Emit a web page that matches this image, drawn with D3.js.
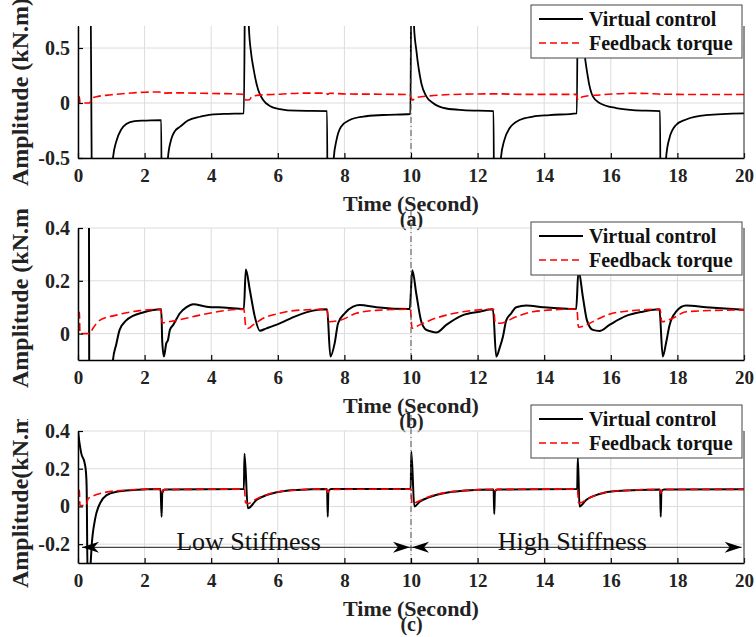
<!DOCTYPE html>
<html><head><meta charset="utf-8">
<script src="https://cdn.jsdelivr.net/npm/d3@7/dist/d3.min.js"></script>
<style>
body{margin:0;background:#fff}
svg{display:block}
text{font-family:"Liberation Serif","Times New Roman",serif}
</style>
</head><body>
<svg id="chart" width="756" height="637"></svg>
<script>
// ---------------- data ----------------
const timeTicks = [0, 2, 4, 6, 8, 10, 12, 14, 16, 18, 20];
const seriesNames = ["Virtual control", "Feedback torque"];
const panelTags = ["(a)", "(b)", "(c)"];
const yTitles = ["Amplitude (kN.m)", "Amplitude (kN.m)", "Amplitude(kN.m)"];
const xTitle = "Time (Second)";

const yDomainA = [-0.5, 0.7];
const yTicksA = [-0.5, 0, 0.5];
const yDomainB = [-0.1, 0.4];
const yTicksB = [0, 0.2, 0.4];
const yDomainC = [-0.3, 0.4];
const yTicksC = [-0.2, 0, 0.2, 0.4];

// panel (a) : [time, value]
const virtualA = [
  [0,0.05],[0.01,1.5],[0.36,1.5],[0.44,-1.5],[0.98,-1.0],[1.05,-0.5],[1.15,-0.35],[1.3,-0.24],[1.45,-0.19],[1.7,-0.165],[2.0,-0.16],[2.5,-0.155],
  [2.52,-1.5],[2.66,-1.0],[2.7,-0.5],[2.8,-0.33],[2.9,-0.26],[3.07,-0.215],[3.3,-0.16],[3.67,-0.125],[4.0,-0.105],[4.5,-0.098],[4.98,-0.094],
  [5.03,1.5],[5.1,1.5],[5.13,0.7],[5.2,0.45],[5.26,0.33],[5.41,0.12],[5.56,0.027],[5.76,-0.027],[6.06,-0.055],[6.56,-0.07],[7.48,-0.073],
  [7.5,-1.5],[7.64,-1.0],[7.68,-0.5],[7.76,-0.34],[7.9,-0.215],[8.16,-0.155],[8.56,-0.124],[9.16,-0.109],[9.98,-0.1],
  [10.02,1.5],[10.06,1.5],[10.09,0.7],[10.16,0.48],[10.31,0.18],[10.46,0.06],[10.66,0.0],[11.06,-0.05],[11.56,-0.064],[12.48,-0.073],
  [12.5,-1.5],[12.66,-1.0],[12.7,-0.5],[12.8,-0.34],[12.96,-0.23],[13.26,-0.155],[13.66,-0.124],[14.16,-0.11],[14.98,-0.094],
  [15.02,1.5],[15.1,1.5],[15.15,0.7],[15.31,0.24],[15.46,0.06],[15.66,0.0],[16.16,-0.046],[16.66,-0.064],[17.48,-0.073],
  [17.5,-1.5],[17.62,-1.0],[17.66,-0.5],[17.76,-0.32],[17.96,-0.2],[18.26,-0.15],[18.86,-0.11],[20,-0.094]
];
const feedbackA = [
  [0,0.057],[0.04,0.057],[0.06,0.0],[0.35,0.0],[0.42,0.045],[0.6,0.06],[1.0,0.075],[1.5,0.088],[2.0,0.098],[2.45,0.1],[2.52,0.085],[2.6,0.09],
  [3.0,0.092],[4.0,0.087],[4.95,0.08],[5.03,0.027],[5.15,0.03],[5.22,0.057],[5.45,0.072],[6.06,0.08],[6.76,0.09],[7.45,0.09],[7.5,0.078],[7.56,0.088],
  [8.06,0.082],[9.06,0.08],[9.96,0.076],[10.04,0.027],[10.16,0.05],[10.56,0.065],[11.56,0.08],[12.56,0.083],[13.5,0.078],[14.95,0.078],
  [15.02,0.027],[15.15,0.057],[15.66,0.073],[16.66,0.088],[17.45,0.082],[17.5,0.074],[17.56,0.08],[18.5,0.077],[20,0.077]
];

// panel (b)
const virtualB = [
  [0,0.0],[0.01,1.0],[0.32,1.0],[0.35,-1.0],[0.95,-0.6],[1.05,-0.1],[1.15,-0.04],[1.25,0.014],[1.45,0.05],[1.65,0.067],[1.95,0.08],[2.5,0.092],
  [2.53,-0.03],[2.58,-0.087],[2.65,-0.037],[2.7,-0.025],[2.76,0.014],[2.86,0.033],[3.06,0.077],[3.26,0.1],[3.46,0.111],[3.86,0.102],[4.46,0.098],[4.98,0.093],
  [5.04,0.243],[5.16,0.165],[5.31,0.064],[5.46,0.011],[5.66,0.02],[6.06,0.039],[6.56,0.067],[7.06,0.087],[7.48,0.092],
  [7.58,-0.087],[7.71,-0.035],[7.81,0.039],[8.01,0.077],[8.26,0.102],[8.46,0.108],[8.96,0.1],[9.96,0.093],
  [10.04,0.24],[10.16,0.15],[10.31,0.045],[10.46,0.014],[10.56,0.01],[10.76,0.004],[11.06,0.033],[11.56,0.07],[12.06,0.083],[12.46,0.092],
  [12.56,-0.087],[12.66,-0.055],[12.76,-0.012],[12.86,0.05],[13.01,0.077],[13.16,0.1],[13.46,0.106],[13.96,0.1],[14.96,0.093],
  [15.03,0.24],[15.16,0.14],[15.28,0.052],[15.46,0.014],[15.66,0.01],[15.96,0.033],[16.46,0.067],[16.96,0.083],[17.46,0.092],
  [17.56,-0.087],[17.66,-0.035],[17.76,0.03],[17.96,0.083],[18.26,0.106],[18.86,0.1],[20,0.09]
];
const feedbackB = [
  [0,0.083],[0.04,0.08],[0.06,0.0],[0.35,0.0],[0.45,0.02],[0.65,0.05],[1.15,0.07],[1.85,0.087],[2.48,0.092],[2.53,0.04],[2.6,0.042],[2.96,0.05],
  [3.66,0.07],[4.46,0.088],[4.98,0.092],[5.04,0.026],[5.1,0.02],[5.26,0.033],[5.56,0.058],[6.06,0.077],[6.56,0.088],[7.48,0.092],[7.53,0.045],
  [7.86,0.05],[8.36,0.077],[8.96,0.088],[9.98,0.092],[10.03,0.02],[10.26,0.033],[10.56,0.05],[11.06,0.07],[11.56,0.083],[12.48,0.092],[12.53,0.04],
  [12.66,0.039],[13.16,0.064],[13.66,0.083],[14.98,0.093],[15.03,0.024],[15.26,0.033],[15.66,0.058],[16.16,0.08],[17.48,0.092],[17.53,0.045],
  [17.86,0.058],[18.26,0.083],[20,0.09]
];

// panel (c)
const virtualC = [
  [0,0.4],[0.05,0.33],[0.1,0.28],[0.2,0.23],[0.24,0.18],[0.26,0.1],[0.29,-0.4],[0.35,-0.4],[0.38,-0.3],[0.41,-0.21],[0.51,-0.07],[0.66,0.016],
  [0.86,0.06],[1.16,0.078],[1.66,0.087],[2.48,0.092],[2.51,-0.055],[2.53,0.07],[2.6,0.09],[4.98,0.093],[5.0,0.28],[5.1,-0.01],[5.36,0.034],
  [5.66,0.06],[6.06,0.078],[6.56,0.087],[7.48,0.092],[7.5,-0.055],[7.52,0.08],[7.6,0.092],[9.99,0.093],[10.01,0.29],[10.1,0.0],[10.26,0.025],
  [10.56,0.05],[11.06,0.073],[11.56,0.083],[12.48,0.09],[12.5,-0.04],[12.52,0.08],[12.6,0.09],[14.99,0.092],[15.01,0.26],[15.06,0.0],
  [15.26,0.034],[15.66,0.066],[16.16,0.082],[17.48,0.09],[17.5,-0.055],[17.52,0.08],[17.6,0.09],[20,0.091]
];
const feedbackC = [
  [0,0.087],[0.04,0.085],[0.06,0.005],[0.25,0.005],[0.3,0.04],[0.45,0.055],[0.7,0.07],[1.0,0.08],[1.5,0.087],[2.45,0.092],[2.5,0.07],[2.55,0.088],
  [5.0,0.092],[5.03,0.02],[5.1,0.015],[5.36,0.04],[5.66,0.062],[6.06,0.078],[6.56,0.087],[7.45,0.092],[7.5,0.075],[7.55,0.09],[10,0.092],
  [10.03,0.015],[10.1,0.018],[10.26,0.03],[10.56,0.053],[11.06,0.074],[11.56,0.084],[12.45,0.09],[12.5,0.075],[12.55,0.09],[15,0.092],
  [15.03,0.02],[15.1,0.02],[15.26,0.036],[15.66,0.066],[16.16,0.082],[17.45,0.09],[17.5,0.07],[17.55,0.09],[20,0.09]
];

const switchTime = 10;
const stiffnessLabels = ["Low Stiffness", "High Stiffness"];
const stiffnessSpans = [[0.12, 10], [10, 19.93]];
const stiffnessLevel = -0.217;
const stiffnessTextLevel = -0.2;

// ---------------- layout ----------------
const W = 756, H = 637;
const left = 78, right = 744;
const panels = [
  {top: 26,  bottom: 158, dom: yDomainA, ticks: yTicksA, v: virtualA, f: feedbackA, legTop: 5,   dashExt: 0,  regionTop: 0},
  {top: 228, bottom: 360, dom: yDomainB, ticks: yTicksB, v: virtualB, f: feedbackB, legTop: 222, dashExt: 18, regionTop: 209},
  {top: 431, bottom: 563, dom: yDomainC, ticks: yTicksC, v: virtualC, f: feedbackC, legTop: 405, dashExt: 16, regionTop: 419}
];

const svg = d3.select("#chart");
const x = d3.scaleLinear().domain([0, 20]).range([left, right]);
const fmt = v => (v < 0 ? "-" : "") + String(Math.abs(v));

panels.forEach((p, i) => {
  const y = d3.scaleLinear().domain(p.dom).range([p.bottom, p.top]);
  const g = svg.append("g");

  // grid
  g.append("g").selectAll("line.gx").data(timeTicks).join("line")
    .attr("x1", d => x(d)).attr("x2", d => x(d)).attr("y1", p.top).attr("y2", p.bottom)
    .attr("stroke", "#dcdcdc").attr("stroke-width", 1);
  g.append("g").selectAll("line.gy").data(p.ticks).join("line")
    .attr("x1", left).attr("x2", right).attr("y1", d => y(d)).attr("y2", d => y(d))
    .attr("stroke", "#dcdcdc").attr("stroke-width", 1);

  // clip
  const cid = "clip" + i;
  svg.append("clipPath").attr("id", cid).append("rect")
    .attr("x", left).attr("y", p.top).attr("width", right - left).attr("height", p.bottom - p.top);
  const lid = "lclip" + i;
  svg.append("clipPath").attr("id", lid).append("rect")
    .attr("x", 0).attr("y", p.regionTop).attr("width", 60).attr("height", 250);

  const line = d3.line().x(d => x(d[0])).y(d => y(d[1])).curve(d3.curveMonotoneX);
  const plot = g.append("g").attr("clip-path", `url(#${cid})`);
  plot.append("path").datum(p.v).attr("d", line).attr("fill", "none")
    .attr("stroke", "#000").attr("stroke-width", i === 0 ? 1.8 : 2).attr("stroke-linejoin", "round");
  plot.append("path").datum(p.f).attr("d", line).attr("fill", "none")
    .attr("stroke", "#ff0000").attr("stroke-width", 1.6).attr("stroke-dasharray", "8,4");

  // dash-dot switch line
  g.append("line").attr("x1", x(switchTime)).attr("x2", x(switchTime))
    .attr("y1", p.top - p.dashExt).attr("y2", p.bottom)
    .attr("stroke", "#555").attr("stroke-width", 1).attr("stroke-dasharray", "6,3,1,3");

  // axes
  const xa = g.append("g").attr("transform", `translate(0,${p.bottom})`)
    .call(d3.axisBottom(x).tickValues(timeTicks).tickFormat(d => d).tickSizeInner(-5).tickSizeOuter(0).tickPadding(11));
  xa.select(".domain").attr("stroke", "#000").attr("stroke-width", 1.5);
  xa.selectAll(".tick line").attr("stroke", "#000").attr("stroke-width", 1.2);
  xa.selectAll("text").attr("font-size", 19).attr("font-weight", "bold").attr("fill", "#222")
    .attr("font-family", "Liberation Serif, Times New Roman, serif");

  const ya = g.append("g").attr("transform", `translate(${left},0)`)
    .call(d3.axisLeft(y).tickValues(p.ticks).tickFormat(fmt).tickSizeInner(-5).tickSizeOuter(0).tickPadding(8));
  ya.select(".domain").attr("stroke", "#000").attr("stroke-width", 1.5);
  ya.selectAll(".tick line").attr("stroke", "#000").attr("stroke-width", 1.2);
  ya.selectAll("text").attr("font-size", 20).attr("font-weight", "bold").attr("fill", "#222")
    .attr("font-family", "Liberation Serif, Times New Roman, serif");

  // right border
  g.append("line").attr("x1", right).attr("x2", right).attr("y1", p.top).attr("y2", p.bottom)
    .attr("stroke", "#333").attr("stroke-width", 1);

  // titles
  g.append("text").attr("x", (left + right) / 2).attr("y", p.bottom + 53)
    .attr("text-anchor", "middle").attr("font-size", 22).attr("font-weight", "bold").attr("fill", "#222")
    .text(xTitle);
  g.append("text").attr("x", (left + right) / 2 + 0.5).attr("y", p.bottom + 68)
    .attr("text-anchor", "middle").attr("font-size", 20).attr("font-weight", "bold").attr("fill", "#222")
    .text(panelTags[i]);
  g.append("g").attr("clip-path", `url(#${lid})`).append("text")
    .attr("transform", `translate(28,${(p.top + p.bottom) / 2}) rotate(-90)`)
    .attr("text-anchor", "middle").attr("font-size", 24).attr("font-weight", "bold").attr("fill", "#222")
    .text(yTitles[i]);

  // legend
  const lg = g.append("g").attr("transform", `translate(531,${p.legTop})`);
  lg.append("rect").attr("x", 0).attr("y", 0).attr("width", 211).attr("height", 53)
    .attr("fill", "#fff").attr("stroke", "#444").attr("stroke-width", 1);
  seriesNames.forEach((n, k) => {
    const cy = 14 + k * 24;
    lg.append("line").attr("x1", 8).attr("x2", 52).attr("y1", cy).attr("y2", cy)
      .attr("stroke", k === 0 ? "#000" : "#ff0000").attr("stroke-width", k === 0 ? 2 : 1.6)
      .attr("stroke-dasharray", k === 0 ? null : "7,4");
    lg.append("text").attr("x", 58).attr("y", cy + 7).attr("font-size", 20).attr("font-weight", "bold")
      .attr("fill", "#111").text(n);
  });

  // stiffness annotation in panel (c)
  if (i === 2) {
    const ay = y(stiffnessLevel);
    const head = (tx, dir) => {
      const L = 17, h = 5.5, n = 12;
      return `M${tx},${ay} L${tx - dir * L},${ay - h} L${tx - dir * n},${ay} L${tx - dir * L},${ay + h} Z`;
    };
    stiffnessSpans.forEach((s, k) => {
      g.append("line").attr("x1", x(s[0])).attr("x2", x(s[1])).attr("y1", ay).attr("y2", ay)
        .attr("stroke", "#444").attr("stroke-width", 1.2);
      g.append("path").attr("d", head(x(s[0]) + (k === 1 ? 1 : 0), -1)).attr("fill", "#000");
      g.append("path").attr("d", head(x(s[1]) - (k === 0 ? 1 : 0), 1)).attr("fill", "#000");
      g.append("text").attr("x", (x(s[0]) + x(s[1])) / 2 + (k === 0 ? 2 : -4)).attr("y", y(stiffnessTextLevel) + 6)
        .attr("text-anchor", "middle").attr("font-size", 26).attr("fill", "#111").text(stiffnessLabels[k]);
    });
  }
});
</script>
</body></html>
